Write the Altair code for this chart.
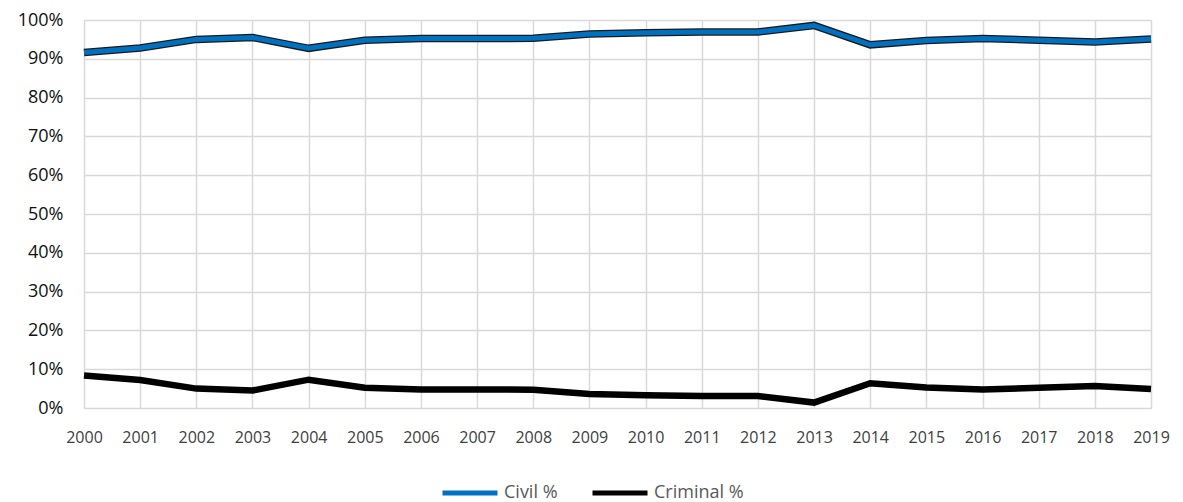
import altair as alt
import pandas as pd

# Share of civil vs criminal cases by year
years = list(range(2000, 2020))
civil_pct = [91.6, 92.8, 95.0, 95.5, 92.7, 94.8, 95.2, 95.2, 95.3, 96.4,
             96.7, 96.9, 96.9, 98.6, 93.6, 94.7, 95.2, 94.8, 94.3, 95.1]
criminal_pct = [8.4, 7.2, 5.0, 4.5, 7.3, 5.2, 4.8, 4.8, 4.7, 3.6,
                3.3, 3.1, 3.1, 1.4, 6.4, 5.3, 4.8, 5.2, 5.7, 4.9]
series_names = ["Civil %", "Criminal %"]
series_colors = ["#0070C0", "#000000"]
y_ticks = [v / 100 for v in range(0, 101, 10)]

df = pd.DataFrame({
    "year": years * 2,
    "value": [v / 100 for v in civil_pct + criminal_pct],
    "series": [series_names[0]] * len(years) + [series_names[1]] * len(years),
})

FONT = "Open Sans"

x_enc = alt.X(
    "year:Q",
    scale=alt.Scale(domain=[2000, 2019], nice=False, zero=False),
    axis=alt.Axis(values=years, format="d", title=None, labelFontSize=16,
                  labelColor="#404040", labelPadding=21, ticks=False,
                  domain=False, gridColor="#D9D9D9", gridWidth=1.5,
                  labelFont=FONT, labelFlush=False, labelOverlap=False,
                  labelBound=False),
)
y_enc = alt.Y(
    "value:Q",
    scale=alt.Scale(domain=[0, 1], nice=False),
    axis=alt.Axis(values=y_ticks, format=".0%", title=None, labelFontSize=18,
                  labelColor="#111111", labelPadding=21, ticks=False,
                  domain=False, gridColor="#D9D9D9", gridWidth=1.5,
                  labelFont=FONT, labelFlush=False),
)
color_enc = alt.Color(
    "series:N",
    scale=alt.Scale(domain=series_names, range=series_colors),
    legend=alt.Legend(
        title=None, orient="none", direction="horizontal",
        legendX=356, legendY=443, symbolType="stroke", symbolSize=3025,
        symbolStrokeWidth=5, labelFontSize=18, labelColor="#595959",
        labelFont=FONT, columnPadding=24, labelOffset=4,
    ),
)

base = alt.Chart(df)

civil_outline = base.transform_filter(
    alt.datum.series == series_names[0]
).mark_line(color="#1a1a1a", strokeWidth=7.5, strokeJoin="miter").encode(
    x=x_enc, y=y_enc, detail="series:N"
)
civil_line = base.transform_filter(
    alt.datum.series == series_names[0]
).mark_line(strokeWidth=5, strokeJoin="miter").encode(
    x=x_enc, y=y_enc, color=color_enc
)
criminal_line = base.transform_filter(
    alt.datum.series == series_names[1]
).mark_line(strokeWidth=6.5, strokeJoin="miter").encode(
    x=x_enc, y=y_enc, color=color_enc
)

chart = alt.layer(civil_outline, civil_line, criminal_line).properties(
    width=1067, height=388,
    autosize=alt.AutoSizeParams(type="none"),
    padding={"left": 84, "top": 20, "right": 32, "bottom": 94},
).configure_view(stroke=None).configure(background="white")

chart.save("out.html", embed_options={"renderer": "svg", "actions": False})
